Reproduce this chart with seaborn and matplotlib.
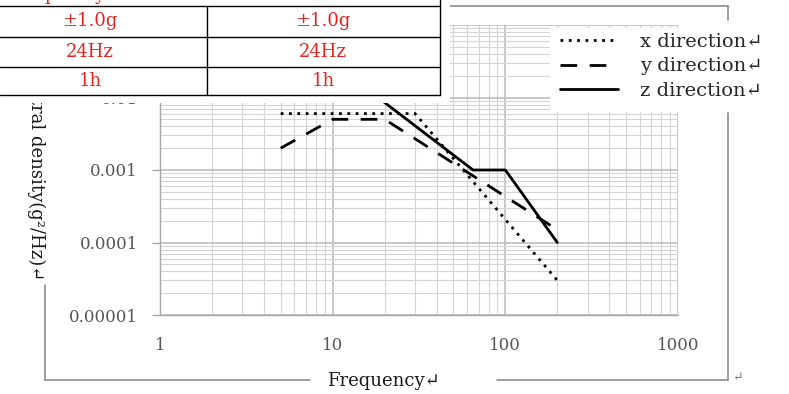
import numpy as np
import pandas as pd
import matplotlib
matplotlib.use('Agg')
import matplotlib.pyplot as plt
import seaborn as sns
from matplotlib.lines import Line2D
from matplotlib.patches import Rectangle
from matplotlib.ticker import FixedLocator, FixedFormatter, LogLocator, NullFormatter

# ---- data ----
x_freq = [5, 30, 200]
x_psd = [0.006, 0.006, 0.00003]
y_freq = [5, 10, 20, 200]
y_psd = [0.002, 0.005, 0.005, 0.00015]
z_freq = [10, 65, 100, 200]
z_psd = [0.03, 0.001, 0.001, 0.0001]
series_names = ['x direction', 'y direction', 'z direction']
legend_labels = ['x direction\u21b5', 'y direction\u21b5', 'z direction\u21b5']
x_ticks = [1, 10, 100, 1000]
x_ticklabels = ['1', '10', '100', '1000']
y_ticks = [0.00001, 0.0001, 0.001, 0.01, 0.1]
y_ticklabels = ['0.00001', '0.0001', '0.001', '0.01', '0.1']
table_header = 'Random Frequency vibration'
table_col1 = ['\u00b11.0g', '24Hz', '1h']
table_col2 = ['\u00b11.0g', '24Hz', '1h']
x_label = 'Frequency\u21b5'
y_label = 'Power spectral density(g\u00b2/Hz)\u21b5'

sns.set_theme(style='white')
plt.rcParams['font.family'] = ['DejaVu Serif', 'DejaVu Sans']

W, H = 789, 394
fig = plt.figure(figsize=(W / 100, H / 100), dpi=100)
fig.patch.set_facecolor('white')

def fx(px):
    return px / W

def fy(py):
    return 1 - py / H

ax = fig.add_axes([fx(160), fy(315), fx(678) - fx(160), fy(25) - fy(315)])

df = pd.concat([
    pd.DataFrame({'freq': x_freq, 'psd': x_psd, 'dir': series_names[0]}),
    pd.DataFrame({'freq': y_freq, 'psd': y_psd, 'dir': series_names[1]}),
    pd.DataFrame({'freq': z_freq, 'psd': z_psd, 'dir': series_names[2]}),
], ignore_index=True)

sns.lineplot(data=df, x='freq', y='psd', style='dir', style_order=series_names,
             dashes={series_names[0]: (1, 2), series_names[1]: (6, 4.5), series_names[2]: ''},
             color='black', linewidth=2, estimator=None, sort=False, legend=False, ax=ax)

ax.set_xscale('log')
ax.set_yscale('log')
ax.set_xlim(1, 1000)
ax.set_ylim(1e-5, 0.1)
ax.set_xlabel('')
ax.set_ylabel('')

ax.xaxis.set_major_locator(FixedLocator(x_ticks))
ax.xaxis.set_major_formatter(FixedFormatter(x_ticklabels))
ax.yaxis.set_major_locator(FixedLocator(y_ticks))
ax.yaxis.set_major_formatter(FixedFormatter(y_ticklabels))
ax.xaxis.set_minor_locator(LogLocator(base=10, subs=range(2, 10), numticks=20))
ax.yaxis.set_minor_locator(LogLocator(base=10, subs=range(2, 10), numticks=20))
ax.xaxis.set_minor_formatter(NullFormatter())
ax.yaxis.set_minor_formatter(NullFormatter())

ax.set_axisbelow(True)
ax.grid(which='major', color='#bdbdbd', linewidth=1.2)
ax.grid(which='minor', color='#d4d4d4', linewidth=0.8)
for side in ['left', 'bottom']:
    ax.spines[side].set_color('#a6a6a6')
    ax.spines[side].set_linewidth(1.0)
for side in ['top', 'right']:
    ax.spines[side].set_visible(False)

ax.tick_params(axis='y', which='major', length=6, width=1, color='#a6a6a6', pad=10,
               labelsize=12, labelcolor='#555555', left=True)
ax.tick_params(axis='x', which='major', length=0, pad=16, labelsize=12, labelcolor='#555555')
ax.tick_params(which='minor', length=0)

# legend with white background
fig.add_artist(Rectangle((fx(550), fy(112)), fx(745) - fx(550), (112 - 28) / H,
                         transform=fig.transFigure, facecolor='white', edgecolor='none', zorder=4))
handles = ax.get_lines()[:3]
fig.legend(handles, legend_labels, loc='upper left', bbox_to_anchor=(fx(560), fy(33)),
           frameon=False, fontsize=14, handlelength=3.0, handletextpad=1.1,
           labelspacing=0.33, borderpad=0, borderaxespad=0).set_zorder(5)

# outer chart-area frame
fc = '#8c8c8c'
segs = [((0, 6), (728, 6)), ((728, 6), (728, 20)), ((728, 113), (728, 380)),
        ((45, 380), (310, 380)), ((497, 380), (728, 380)), ((45, 285), (45, 380))]
for (x0, y0), (x1, y1) in segs:
    fig.add_artist(Line2D([fx(x0), fx(x1)], [fy(y0), fy(y1)], transform=fig.transFigure,
                          color=fc, linewidth=1.2, zorder=3))

fig.text(fx(327), fy(381), x_label, ha='left', va='center', fontsize=13, color='#1a1a1a', zorder=3)
fig.text(fx(36), fy(280), y_label, rotation=-90, ha='center', va='bottom', fontsize=13,
         color='#1a1a1a', zorder=3)
fig.text(fx(733), fy(377), '\u21b5', ha='left', va='center', fontsize=9, color='#777777', zorder=3)

# overlapping table at top-left
fig.add_artist(Rectangle((0, fy(103)), fx(450), 103 / H, transform=fig.transFigure,
                         facecolor='white', edgecolor='none', zorder=10))
for yy in [6, 37, 67, 95]:
    fig.add_artist(Line2D([0, fx(440)], [fy(yy), fy(yy)], transform=fig.transFigure,
                          color='black', linewidth=1.0, zorder=11))
fig.add_artist(Line2D([fx(207), fx(207)], [fy(6), fy(95)], transform=fig.transFigure,
                      color='black', linewidth=1.0, zorder=11))
fig.add_artist(Line2D([fx(440), fx(440)], [fy(0), fy(95)], transform=fig.transFigure,
                      color='black', linewidth=1.0, zorder=11))
red = '#e8231f'
fig.text(fx(193), fy(0), table_header, ha='right', va='baseline', fontsize=13, color=red, zorder=12)
for yc, a, b in zip([21.5, 52, 81], table_col1, table_col2):
    fig.text(fx(90), fy(yc), a, ha='center', va='center', fontsize=13, color=red, zorder=12)
    fig.text(fx(323), fy(yc), b, ha='center', va='center', fontsize=13, color=red, zorder=12)

fig.savefig('out.png', dpi=100, facecolor='white')
